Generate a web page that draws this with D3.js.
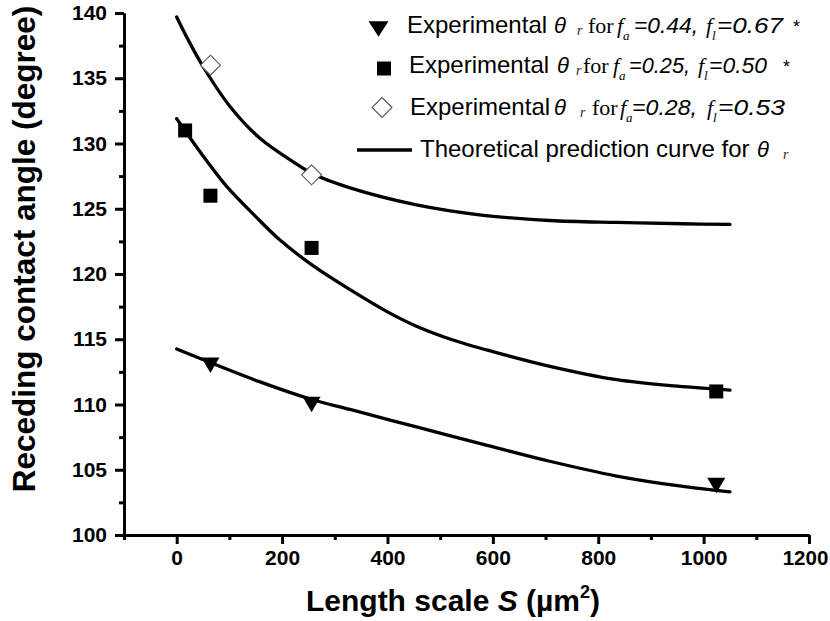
<!DOCTYPE html>
<html><head><meta charset="utf-8">
<script src="https://cdn.jsdelivr.net/npm/d3@7"></script>
<style>
html,body{margin:0;padding:0;background:#fff;}
svg{display:block;font-family:"Liberation Sans",Arial,sans-serif;}
</style></head><body>
<svg id="chart" width="830" height="621"></svg>
<script>
// Measured receding contact angles (degrees) against length scale S (µm²)
const sTriangle = [64, 256, 1024];
const thetaTriangle = [113, 110, 103.8];
const sSquare = [16, 64, 256, 1024];
const thetaSquare = [131, 126, 122, 111];
const sDiamond = [64, 256];
const thetaDiamond = [136, 127.6];

// Theoretical prediction curves, sampled along S
const curveUpperS = [0, 21, 50, 100, 158, 221, 257, 329, 455, 582, 708, 835, 961, 1050];
const curveUpperTheta = [139.7, 138.0, 135.9, 132.9, 130.4, 128.6, 127.7, 126.6, 125.3, 124.5, 124.1, 123.95, 123.85, 123.8];
const curveMiddleS = [0, 50, 94, 150, 196, 260, 329, 400, 455, 520, 600, 700, 835, 950, 1050];
const curveMiddleTheta = [131.9, 129.05, 126.75, 124.4, 122.6, 120.6, 118.8, 117.1, 116.0, 115.0, 114.05, 113.0, 111.9, 111.4, 111.1];
const curveLowerS = [0, 157, 255, 329, 455, 582, 708, 835, 961, 1050];
const curveLowerTheta = [114.25, 111.75, 110.4, 109.62, 108.28, 106.95, 105.65, 104.52, 103.72, 103.3];

// Axis ticks
const xMajorTicks = [0, 200, 400, 600, 800, 1000, 1200];
const xMinorTicks = [-100, 100, 300, 500, 700, 900, 1100];
const yMajorTicks = [100, 105, 110, 115, 120, 125, 130, 135, 140];
const yMinorTicks = [102.5, 107.5, 112.5, 117.5, 122.5, 127.5, 132.5, 137.5];

// Legend values
const legendFa = ["0.44", "0.25", "0.28"];
const legendFl = ["0.67", "0.50", "0.53"];
const legendStar = [true, true, false];

const svg = d3.select("#chart");
const x = d3.scaleLinear().domain([-100, 1200]).range([124, 809]);
const y = d3.scaleLinear().domain([100, 140]).range([535, 13]);

const zip = (a, b) => a.map((v, i) => [v, b[i]]);

// ---- axes ----
function styleAxis(g) {
  g.select(".domain").attr("stroke", "#000").attr("stroke-width", 3);
  g.selectAll(".tick line").attr("stroke", "#000").attr("stroke-width", 3);
  g.selectAll(".tick text").attr("fill", "#000")
    .attr("font-family", "'Liberation Sans', Arial, sans-serif")
    .attr("font-weight", "bold").attr("font-size", 21);
}
const fmt = d3.format("d");

svg.append("g").attr("transform", "translate(0,535)")
  .call(d3.axisBottom(x).tickValues(xMinorTicks).tickSize(5).tickSizeOuter(0).tickFormat(""))
  .call(styleAxis);
const xAxisG = svg.append("g").attr("transform", "translate(0,535)")
  .call(d3.axisBottom(x).tickValues(xMajorTicks).tickSize(9).tickSizeOuter(0).tickPadding(6).tickFormat(fmt))
  .call(styleAxis);
// keep the last label inside the canvas
xAxisG.selectAll(".tick text").filter(d => d === 1200).attr("dx", -4).attr("font-size", 20.5);

svg.append("g").attr("transform", "translate(124,0)")
  .call(d3.axisLeft(y).tickValues(yMinorTicks).tickSize(5).tickSizeOuter(0).tickFormat(""))
  .call(styleAxis);
svg.append("g").attr("transform", "translate(124,0)")
  .call(d3.axisLeft(y).tickValues(yMajorTicks).tickSize(9).tickSizeOuter(0).tickPadding(8).tickFormat(fmt))
  .call(styleAxis);

// ---- axis titles ----
svg.append("text")
  .attr("transform", "translate(35,249) rotate(-90)")
  .attr("text-anchor", "middle")
  .attr("font-weight", "bold").attr("font-size", 31.5)
  .text("Receding contact angle (degree)");

const xTitle = svg.append("text")
  .attr("x", 453).attr("y", 611)
  .attr("text-anchor", "middle")
  .attr("font-weight", "bold").attr("font-size", 30);
xTitle.append("tspan").text("Length scale ");
xTitle.append("tspan").attr("font-style", "italic").text("S");
xTitle.append("tspan").text(" (\u00B5m");
xTitle.append("tspan").attr("font-size", 18).attr("dy", -13).text("2");
xTitle.append("tspan").attr("dy", 13).text(")");

// ---- theoretical curves ----
const line = d3.line().x(d => x(d[0])).y(d => y(d[1])).curve(d3.curveCatmullRom.alpha(0.5));
[zip(curveUpperS, curveUpperTheta), zip(curveMiddleS, curveMiddleTheta), zip(curveLowerS, curveLowerTheta)]
  .forEach(pts => {
    svg.append("path").attr("d", line(pts))
      .attr("fill", "none").attr("stroke", "#000")
      .attr("stroke-width", 3.3).attr("stroke-linecap", "round");
  });

// ---- marker shapes ----
const triPath = (cx, cy, w, h) =>
  `M${cx - w / 2},${cy - h / 2}L${cx + w / 2},${cy - h / 2}L${cx},${cy + h / 2}Z`;
const diaPath = (cx, cy, r) =>
  `M${cx},${cy - r}L${cx + r},${cy}L${cx},${cy + r}L${cx - r},${cy}Z`;

svg.append("g").selectAll("path").data(zip(sTriangle, thetaTriangle)).join("path")
  .attr("d", d => triPath(x(d[0]), y(d[1]), 18, 15.5)).attr("fill", "#000");

svg.append("g").selectAll("rect").data(zip(sSquare, thetaSquare)).join("rect")
  .attr("x", d => x(d[0]) - 7).attr("y", d => y(d[1]) - 7)
  .attr("width", 14).attr("height", 14).attr("fill", "#000");

svg.append("g").selectAll("path").data(zip(sDiamond, thetaDiamond)).join("path")
  .attr("d", d => diaPath(x(d[0]), y(d[1]), 10))
  .attr("fill", "#fff").attr("stroke", "#555").attr("stroke-width", 1.1);

// ---- legend ----
// per-row placement of each text piece (x positions) and equation widths
const legendRows = [
  { y: 33, tx: 407, th: 554, r: 577, fr: 588, f1: 617, e1: 634, w1: 64, f2: 706, e2: 717, w2: 66, st: 793, mx: 378.5, my: 29 },
  { y: 73, tx: 409, th: 557, r: 576, fr: 583, f1: 613, e1: 629, w1: 61, f2: 698, e2: 709, w2: 58, st: 783, mx: 384, my: 68.5 },
  { y: 115, tx: 410, th: 554, r: 580, fr: 592, f1: 620, e1: 632, w1: 65, f2: 707, e2: 718, w2: 67, st: 0, mx: 382, my: 107.5 }
];
const serif = "'Liberation Serif', 'Times New Roman', serif";
const leg = svg.append("g");

legendRows.forEach((row, i) => {
  if (i === 0) leg.append("path").attr("d", triPath(row.mx, row.my, 20, 15.5)).attr("fill", "#000");
  if (i === 1) leg.append("rect").attr("x", row.mx - 7).attr("y", row.my - 7).attr("width", 14).attr("height", 14).attr("fill", "#000");
  if (i === 2) leg.append("path").attr("d", diaPath(row.mx, row.my, 10)).attr("fill", "#fff").attr("stroke", "#555").attr("stroke-width", 1.1);

  const t = leg.append("text").attr("y", row.y).attr("fill", "#000");
  t.append("tspan").attr("x", row.tx).attr("font-size", 24).text("Experimental");
  t.append("tspan").attr("x", row.th).attr("font-size", 22).attr("font-style", "italic").text("\u03B8");
  t.append("tspan").attr("x", row.r).attr("dy", 2).attr("font-family", serif).attr("font-style", "italic").attr("font-size", 14).attr("fill", "#3a2020").text("r");
  t.append("tspan").attr("x", row.fr).attr("dy", -2).attr("font-family", serif).attr("font-size", 22).text("for");
  t.append("tspan").attr("x", row.f1).attr("font-family", serif).attr("font-style", "italic").attr("font-size", 22).text("f");
  t.append("tspan").attr("x", row.f1 + 6).attr("dy", 7).attr("font-family", serif).attr("font-style", "italic").attr("font-size", 13).text("a");
  t.append("tspan").attr("x", row.e1).attr("dy", -7).attr("font-style", "italic").attr("font-size", 22)
    .attr("textLength", row.w1).attr("lengthAdjust", "spacingAndGlyphs").text("=" + legendFa[i] + ",");
  t.append("tspan").attr("x", row.f2).attr("font-family", serif).attr("font-style", "italic").attr("font-size", 22).text("f");
  t.append("tspan").attr("x", row.f2 + 6).attr("dy", 7).attr("font-family", serif).attr("font-style", "italic").attr("font-size", 13).text("l");
  t.append("tspan").attr("x", row.e2).attr("dy", -7).attr("font-style", "italic").attr("font-size", 22)
    .attr("textLength", row.w2).attr("lengthAdjust", "spacingAndGlyphs").text("=" + legendFl[i]);
  if (legendStar[i]) t.append("tspan").attr("x", row.st).attr("font-size", 18).text("*");
});

// curve entry
leg.append("line").attr("x1", 357).attr("x2", 412).attr("y1", 150).attr("y2", 150)
  .attr("stroke", "#000").attr("stroke-width", 3.3);
const tl = leg.append("text").attr("y", 157).attr("fill", "#000");
tl.append("tspan").attr("x", 420).attr("font-size", 24).text("Theoretical prediction curve for");
tl.append("tspan").attr("x", 757).attr("font-size", 22).attr("font-style", "italic").text("\u03B8");
tl.append("tspan").attr("x", 783).attr("dy", 2).attr("font-family", serif).attr("font-style", "italic").attr("font-size", 14).attr("fill", "#3a2020").text("r");
</script>
</body></html>
